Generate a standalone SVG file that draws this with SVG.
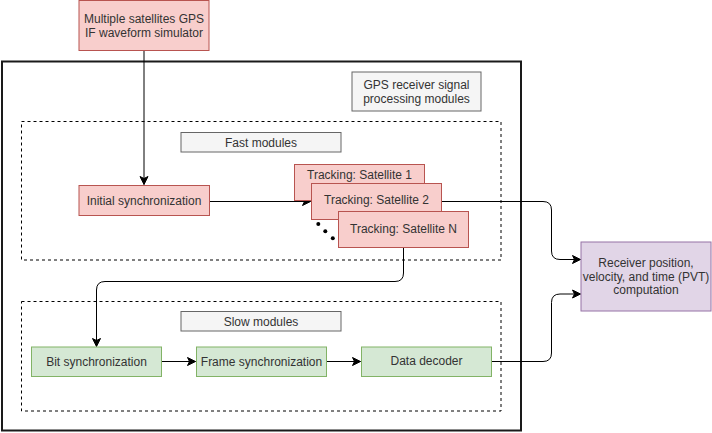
<svg xmlns="http://www.w3.org/2000/svg" width="712" height="433" viewBox="0 0 712 433">
<defs>
<style>
text{font-family:"Liberation Sans",Arial,sans-serif;font-size:12px;fill:#333333;text-anchor:middle;dominant-baseline:central}
.red{fill:#f8cecc;stroke:#b85450;stroke-width:1}
.green{fill:#d5e8d4;stroke:#82b366;stroke-width:1}
.gray{fill:#f5f5f5;stroke:#666666;stroke-width:1}
.purple{fill:#e1d5e7;stroke:#9673a6;stroke-width:1}
.dash{fill:none;stroke:#000;stroke-width:1;stroke-dasharray:3 3}
.edge{fill:none;stroke:#000;stroke-width:1}
</style>
<marker id="arr" markerUnits="userSpaceOnUse" markerWidth="10" markerHeight="10" viewBox="-1 -5 10 10" refX="8" refY="0" orient="auto">
<path d="M0,-4 L8,0 L0,4 L2,0 Z" fill="#000" stroke="#000" stroke-width="1"/>
</marker>
</defs>
<rect width="712" height="433" fill="#fff"/>
<g id="container">
<rect x="2" y="61.5" width="519" height="369" fill="none" stroke="#1a1a1a" stroke-width="2"/>
</g>
<g id="fast-container"><rect class="dash" x="21.5" y="121.5" width="479.5" height="138.5"/></g>
<g id="slow-container"><rect class="dash" x="21.5" y="301.5" width="479.5" height="109.5"/></g>
<g id="connectors">
<path class="edge" d="M144,50.5 V184.5" marker-end="url(#arr)"/>
<path class="edge" d="M209.5,201.5 H310.5" marker-end="url(#arr)"/>
<path class="edge" d="M403.5,247.5 V273 Q403.5,281.5 395,281.5 H105 Q96.5,281.5 96.5,290 V346.5" marker-end="url(#arr)"/>
<path class="edge" d="M161.5,361.5 H195.5" marker-end="url(#arr)"/>
<path class="edge" d="M326.5,361.5 H360.5" marker-end="url(#arr)"/>
<path class="edge" d="M441.5,201.5 H543 Q551.5,201.5 551.5,210 V251 Q551.5,259.5 560,259.5 H580.5" marker-end="url(#arr)"/>
<path class="edge" d="M491.5,361.5 H543 Q551.5,361.5 551.5,353 V302.5 Q551.5,294 560,294 H580.5" marker-end="url(#arr)"/>
</g>
<g id="simulator">
<rect class="red" x="79" y="0.5" width="130" height="50"/>
<text x="144" y="18.5">Multiple satellites GPS</text>
<text x="144" y="32.5">IF waveform simulator</text>
</g>
<g id="receiver-label">
<rect class="gray" x="352" y="72" width="129" height="39"/>
<text x="416.5" y="85">GPS receiver signal</text>
<text x="416.5" y="99">processing modules</text>
</g>
<g id="fast-label">
<rect class="gray" x="181" y="132.5" width="160" height="19.5"/>
<text x="261" y="142.5">Fast modules</text>
</g>
<g id="init-sync">
<rect class="red" x="79" y="185.5" width="130.5" height="30"/>
<text x="144" y="200.5">Initial synchronization</text>
</g>
<g id="track-1">
<rect class="red" x="294.5" y="164.5" width="130" height="36"/>
<text x="359.5" y="174.5">Tracking: Satellite 1</text>
</g>
<g id="track-2">
<rect class="red" x="311.5" y="183.5" width="130" height="36"/>
<text x="376.5" y="199.5">Tracking: Satellite 2</text>
</g>
<g id="dots">
<circle cx="318.3" cy="224" r="2" fill="#000"/>
<circle cx="325.3" cy="231.3" r="2" fill="#000"/>
<circle cx="332.8" cy="238.3" r="2" fill="#000"/>
</g>
<g id="track-n">
<rect class="red" x="338.5" y="211.5" width="130" height="36"/>
<text x="403.5" y="228.5">Tracking: Satellite N</text>
</g>
<g id="slow-label">
<rect class="gray" x="181" y="311.5" width="160" height="19.5"/>
<text x="261" y="321.5">Slow modules</text>
</g>
<g id="bit-sync">
<rect class="green" x="31.5" y="347" width="130" height="29.5"/>
<text x="96.5" y="361.5">Bit synchronization</text>
</g>
<g id="frame-sync">
<rect class="green" x="196.5" y="347" width="130" height="29.5"/>
<text x="261.5" y="361.5">Frame synchronization</text>
</g>
<g id="data-decoder">
<rect class="green" x="361.5" y="347" width="130" height="29.5"/>
<text x="426.5" y="360.5">Data decoder</text>
</g>
<g id="pvt">
<rect class="purple" x="581" y="242" width="130" height="69"/>
<text x="646" y="262.5">Receiver position,</text>
<text x="646" y="276.5">velocity, and time (PVT)</text>
<text x="646" y="290">computation</text>
</g>
</svg>
